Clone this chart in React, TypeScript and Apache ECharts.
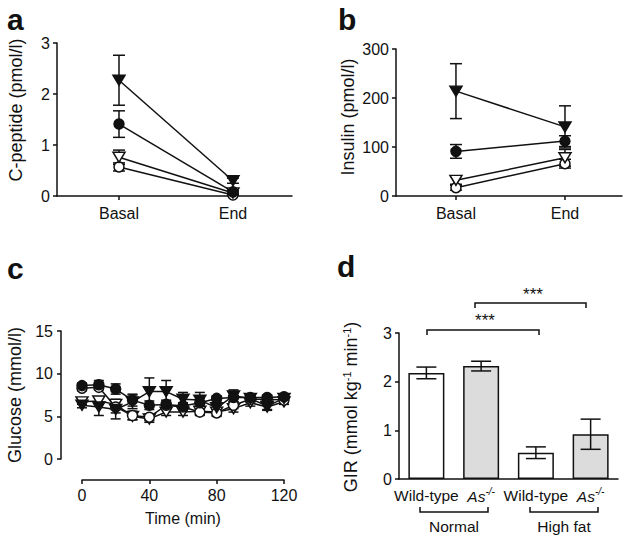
import React, { useEffect, useRef } from "react";
import * as echarts from "echarts";

const FONT = "'Liberation Sans', Arial, Helvetica, sans-serif";
const INK = "#111111";
const GREY = "#dcdcdc";

// ---------- Panel a: C-peptide (pmol/l) ----------
const phaseLabels = ["Basal", "End"];
const phaseX = [0, 1];
const cpepFilledTri = [2.27, 0.3];
const cpepFilledTriErr = [0.49, 0.05];
const cpepFilledCircle = [1.41, 0.08];
const cpepFilledCircleErr = [0.26, 0.03];
const cpepOpenTri = [0.76, 0.06];
const cpepOpenTriErr = [0.14, 0.02];
const cpepOpenCircle = [0.57, 0.02];
const cpepOpenCircleErr = [0.08, 0.01];

// ---------- Panel b: Insulin (pmol/l) ----------
const insFilledTri = [214, 141];
const insFilledTriErr = [56, 43];
const insFilledCircle = [91, 112];
const insFilledCircleErr = [14, 11];
const insOpenTri = [32, 78];
const insOpenTriErr = [8, 17];
const insOpenCircle = [17, 66];
const insOpenCircleErr = [5, 9];

// ---------- Panel c: Glucose (mmol/l) over time ----------
const timeMin = [0, 10, 20, 30, 40, 50, 60, 70, 80, 90, 100, 110, 120];
const gluFilledCircle = [8.6, 8.7, 8.2, 6.9, 6.3, 6.4, 6.2, 6.6, 7.1, 7.2, 7.2, 7.2, 7.3];
const gluFilledCircleErr = [0.3, 0.5, 0.6, 0.7, 0.5, 0.5, 0.4, 0.5, 0.3, 0.5, 0.3, 0.3, 0.3];
const gluFilledTri = [6.3, 6.1, 5.8, 6.7, 7.9, 7.9, 7.0, 6.9, 6.0, 7.4, 7.1, 6.2, 7.1];
const gluFilledTriErr = [0.3, 1.0, 1.1, 0.8, 1.6, 1.3, 0.8, 0.9, 0.6, 0.7, 0.4, 0.4, 0.3];
const gluOpenCircle = [8.3, 8.4, 6.1, 5.1, 4.9, 6.3, 6.1, 5.5, 5.4, 6.3, 7.0, 7.0, 6.9];
const gluOpenCircleErr = [0.3, 0.3, 0.7, 0.5, 0.4, 0.5, 0.4, 0.4, 0.4, 0.4, 0.3, 0.3, 0.3];
const gluOpenTri = [6.7, 6.8, 6.4, 5.0, 4.7, 5.5, 5.5, 5.6, 5.5, 5.9, 6.6, 6.1, 6.7];
const gluOpenTriErr = [0.3, 0.4, 0.6, 0.4, 0.4, 0.4, 0.4, 0.4, 0.4, 0.4, 0.4, 0.4, 0.3];

// ---------- Panel d: GIR ----------
const girCategories = ["WT-normal", "As-normal", "WT-highfat", "As-highfat"];
const girTickLabels = ["Wild-type", "As", "Wild-type", "As"];
const girValues = [2.18, 2.32, 0.54, 0.92];
const girErr = [0.12, 0.1, 0.12, 0.31];
const dietGroups = ["Normal", "High fat"];

type Kind = "filledCircle" | "openCircle" | "filledTri" | "openTri";

function markerStyle(kind: Kind) {
  const filled = kind.startsWith("filled");
  const tri = kind.endsWith("Tri");
  return {
    symbol: tri ? "triangle" : "circle",
    symbolRotate: tri ? 180 : 0,
    symbolSize: tri ? [12, 10] : 10,
    itemStyle: { color: filled ? INK : "#ffffff", borderColor: INK, borderWidth: 1.5 },
  };
}

function lineSeries(idx: number, xs: number[], ys: number[], kind: Kind) {
  return {
    type: "line",
    xAxisIndex: idx,
    yAxisIndex: idx,
    data: xs.map((x, i) => [x, ys[i]]),
    ...markerStyle(kind),
    showSymbol: true,
    showAllSymbol: true,
    lineStyle: { color: INK, width: 1.5 },
    z: 3,
    silent: true,
  };
}

function makeErrRender(cap: number) {
  return (_params: any, api: any) => {
    const x = api.value(0);
    const lo = api.value(1);
    const hi = api.value(2);
    const pLo = api.coord([x, lo]);
    const pHi = api.coord([x, hi]);
    const style = { stroke: INK, lineWidth: 1.5, fill: null };
    return {
      type: "group",
      children: [
        { type: "line", shape: { x1: pLo[0], y1: pLo[1], x2: pHi[0], y2: pHi[1] }, style },
        { type: "line", shape: { x1: pHi[0] - cap, y1: pHi[1], x2: pHi[0] + cap, y2: pHi[1] }, style },
        { type: "line", shape: { x1: pLo[0] - cap, y1: pLo[1], x2: pLo[0] + cap, y2: pLo[1] }, style },
      ],
    };
  };
}

function errSeries(idx: number, xs: (number | string)[], ys: number[], es: number[], cap: number, z = 2) {
  return {
    type: "custom",
    xAxisIndex: idx,
    yAxisIndex: idx,
    data: xs.map((x, i) => [typeof x === "number" ? x : i, ys[i] - es[i], ys[i] + es[i]]),
    encode: { x: 0, y: [1, 2] },
    renderItem: makeErrRender(cap),
    z,
    silent: true,
  };
}

const axisLine = { onZero: false, lineStyle: { color: INK, width: 1.5 } };
const axisTick = { length: 4, lineStyle: { color: INK, width: 1.5 } };
const axisLabelBase = { color: INK, fontSize: 16, fontFamily: FONT };

function textEl(text: string, x: number, y: number, size: number, extra: any = {}) {
  const { rotation, weight, align, valign, rich, lineHeight } = extra;
  return {
    type: "text",
    x,
    y,
    rotation: rotation || 0,
    silent: true,
    style: {
      text,
      fill: INK,
      fontSize: size,
      fontFamily: FONT,
      fontWeight: weight || "normal",
      lineHeight: lineHeight,
      textAlign: align || "center",
      align: align || "center",
      textVerticalAlign: valign || "middle",
      verticalAlign: valign || "middle",
      rich,
    },
  };
}

function polyEl(points: number[][]) {
  return {
    type: "polyline",
    silent: true,
    shape: { points },
    style: { stroke: INK, lineWidth: 1.5, fill: null },
  };
}

export default function App() {
  const ref = useRef<HTMLDivElement>(null);

  useEffect(() => {
    if (!ref.current) return;
    const chart = echarts.init(ref.current, null, { renderer: "svg" });

    const phaseFormatter = (v: number) => phaseLabels[Math.round(v)] ?? "";

    const option: any = {
      animation: false,
      backgroundColor: "#ffffff",
      grid: [
        { left: 57, top: 43, width: 235, height: 153 },
        { left: 396, top: 49, width: 226, height: 147 },
        { left: 82, top: 331, width: 202, height: 128 },
        { left: 399, top: 333, width: 219, height: 146 },
      ],
      xAxis: [
        {
          gridIndex: 0,
          type: "value",
          min: -0.544,
          max: 1.518,
          axisLine,
          axisTick: { ...axisTick, customValues: phaseX },
          axisLabel: { ...axisLabelBase, margin: 9, customValues: phaseX, formatter: phaseFormatter },
          splitLine: { show: false },
        },
        {
          gridIndex: 1,
          type: "value",
          min: -0.55,
          max: 1.523,
          axisLine,
          axisTick: { ...axisTick, customValues: phaseX },
          axisLabel: { ...axisLabelBase, margin: 9, customValues: phaseX, formatter: phaseFormatter },
          splitLine: { show: false },
        },
        {
          gridIndex: 2,
          type: "value",
          min: 0,
          max: 120,
          interval: 40,
          offset: 21,
          axisLine,
          axisTick,
          axisLabel: { ...axisLabelBase, margin: 7 },
          splitLine: { show: false },
          name: "Time (min)",
          nameLocation: "middle",
          nameGap: 30,
          nameTextStyle: { color: INK, fontSize: 16, fontFamily: FONT },
        },
        {
          gridIndex: 3,
          type: "category",
          data: girCategories,
          axisLine,
          axisTick: { show: false },
          axisLabel: {
            ...axisLabelBase,
            fontSize: 15.5,
            margin: 7,
            interval: 0,
            lineHeight: 18,
            formatter: (_v: string, i: number) =>
              girTickLabels[i] === "As" ? "{it|As}{sup|-/-}" : girTickLabels[i],
            rich: {
              it: { fontStyle: "italic", fontSize: 15.5, fontFamily: FONT, color: INK, lineHeight: 18, verticalAlign: "bottom" },
              sup: { fontStyle: "italic", fontSize: 10, fontFamily: FONT, color: INK, lineHeight: 10, verticalAlign: "top" },
            },
          },
          splitLine: { show: false },
        },
      ],
      yAxis: [
        {
          gridIndex: 0,
          type: "value",
          min: 0,
          max: 3,
          interval: 1,
          axisLine: { show: true, ...axisLine },
          axisTick: { show: true, ...axisTick },
          axisLabel: { ...axisLabelBase, margin: 7 },
          splitLine: { show: false },
        },
        {
          gridIndex: 1,
          type: "value",
          min: 0,
          max: 300,
          interval: 100,
          axisLine: { show: true, ...axisLine },
          axisTick: { show: true, ...axisTick },
          axisLabel: { ...axisLabelBase, margin: 7 },
          splitLine: { show: false },
        },
        {
          gridIndex: 2,
          type: "value",
          min: 0,
          max: 15,
          interval: 5,
          offset: 21,
          axisLine: { show: true, ...axisLine },
          axisTick: { show: true, ...axisTick },
          axisLabel: { ...axisLabelBase, margin: 8 },
          splitLine: { show: false },
        },
        {
          gridIndex: 3,
          type: "value",
          min: 0,
          max: 3,
          interval: 1,
          axisLine: { show: true, ...axisLine },
          axisTick: { show: true, ...axisTick },
          axisLabel: { ...axisLabelBase, margin: 7 },
          splitLine: { show: false },
        },
      ],
      series: [
        // panel a
        errSeries(0, phaseX, cpepFilledTri, cpepFilledTriErr, 6),
        errSeries(0, phaseX, cpepFilledCircle, cpepFilledCircleErr, 6),
        errSeries(0, phaseX, cpepOpenTri, cpepOpenTriErr, 6),
        errSeries(0, phaseX, cpepOpenCircle, cpepOpenCircleErr, 6),
        lineSeries(0, phaseX, cpepOpenCircle, "openCircle"),
        lineSeries(0, phaseX, cpepOpenTri, "openTri"),
        lineSeries(0, phaseX, cpepFilledCircle, "filledCircle"),
        lineSeries(0, phaseX, cpepFilledTri, "filledTri"),
        // panel b
        errSeries(1, phaseX, insFilledTri, insFilledTriErr, 6),
        errSeries(1, phaseX, insFilledCircle, insFilledCircleErr, 6),
        errSeries(1, phaseX, insOpenTri, insOpenTriErr, 6),
        errSeries(1, phaseX, insOpenCircle, insOpenCircleErr, 6),
        lineSeries(1, phaseX, insOpenCircle, "openCircle"),
        lineSeries(1, phaseX, insOpenTri, "openTri"),
        lineSeries(1, phaseX, insFilledCircle, "filledCircle"),
        lineSeries(1, phaseX, insFilledTri, "filledTri"),
        // panel c
        errSeries(2, timeMin, gluFilledCircle, gluFilledCircleErr, 5),
        errSeries(2, timeMin, gluFilledTri, gluFilledTriErr, 5),
        errSeries(2, timeMin, gluOpenCircle, gluOpenCircleErr, 5),
        errSeries(2, timeMin, gluOpenTri, gluOpenTriErr, 5),
        lineSeries(2, timeMin, gluOpenTri, "openTri"),
        lineSeries(2, timeMin, gluOpenCircle, "openCircle"),
        lineSeries(2, timeMin, gluFilledTri, "filledTri"),
        lineSeries(2, timeMin, gluFilledCircle, "filledCircle"),
        // panel d
        {
          type: "bar",
          xAxisIndex: 3,
          yAxisIndex: 3,
          barWidth: 36,
          silent: true,
          z: 2,
          data: girValues.map((v, i) => ({
            value: v,
            itemStyle: { color: i % 2 === 0 ? "#ffffff" : GREY, borderColor: INK, borderWidth: 1.5 },
          })),
        },
        errSeries(3, girCategories, girValues, girErr, 10, 4),
      ],
      graphic: [
        // panel letters
        textEl("a", 7, 19, 30, { weight: "bold", align: "left" }),
        textEl("b", 338, 19, 30, { weight: "bold", align: "left" }),
        textEl("c", 7, 268, 30, { weight: "bold", align: "left" }),
        textEl("d", 337, 266, 30, { weight: "bold", align: "left" }),
        // y-axis titles
        textEl("C-peptide (pmol/l)", 16, 110, 18, { rotation: Math.PI / 2 }),
        textEl("Insulin (pmol/l)", 348, 117, 18, { rotation: Math.PI / 2 }),
        textEl("Glucose (mmol/l)", 15, 395, 18, { rotation: Math.PI / 2 }),
        textEl("GIR (mmol kg{sup|-1} min{sup|-1})", 351, 407, 18, {
          rotation: Math.PI / 2,
          lineHeight: 20,
          rich: { sup: { fontSize: 11, fontFamily: FONT, fill: INK, lineHeight: 11, verticalAlign: "top" } },
        }),
        // diet group brackets
        polyEl([[420, 507], [420, 512], [488, 512], [488, 507]]),
        polyEl([[530, 507], [530, 512], [598, 512], [598, 507]]),
        textEl(dietGroups[0], 454, 526, 15.5),
        textEl(dietGroups[1], 564, 526, 15.5),
        // significance brackets
        polyEl([[427, 335], [427, 330], [539, 330], [539, 335]]),
        textEl("***", 485, 320, 17),
        polyEl([[475, 308], [475, 303], [586, 303], [586, 308]]),
        textEl("***", 533, 294, 17),
      ],
    };

    chart.setOption(option);
    return () => chart.dispose();
  }, []);

  return (
    <div
      ref={ref}
      style={{ position: "fixed", left: 0, top: 0, width: 629, height: 541, background: "#ffffff" }}
    />
  );
}
